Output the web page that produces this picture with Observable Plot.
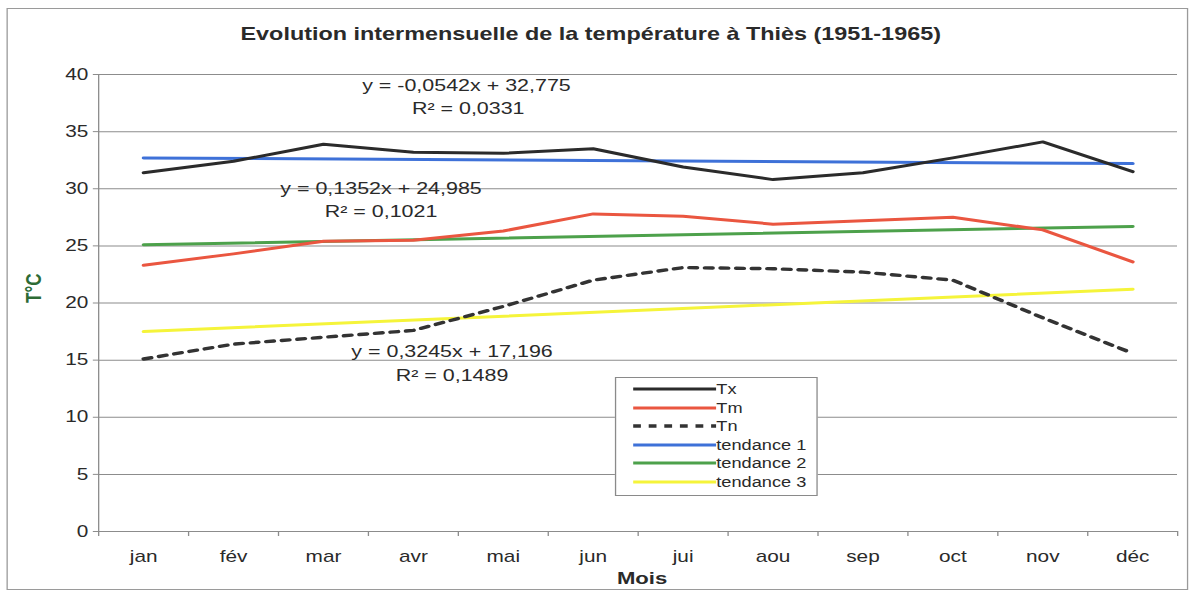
<!DOCTYPE html>
<html>
<head>
<meta charset="utf-8">
<script src="https://cdn.jsdelivr.net/npm/d3@7"></script>
<script src="https://cdn.jsdelivr.net/npm/@observablehq/plot@0.6"></script>
<style>
  body { margin: 0; background: #fff; }
  #wrap { position: relative; width: 920px; height: 597px; transform: scaleX(1.3); transform-origin: 0 0;
          font-family: "Liberation Sans", Arial, sans-serif; overflow: visible; }
  #frame { position: absolute; left: 5px; top: 8px; width: 909px; height: 582px; border: 1px solid #9a9a9a; box-sizing: border-box; }
  #chart { position: absolute; left: 0; top: 0; }
  #legend { position: absolute; left: 473px; top: 377px; width: 156px; height: 119px; border: 1px solid #8a8a8a;
            background: #fff; box-sizing: border-box; }
  .row { position: absolute; left: 0; height: 18px; width: 156px; }
  .row svg { position: absolute; left: 13px; top: 0; }
  .row span { position: absolute; left: 77px; top: 0; line-height: 18px; font-size: 14px; color: #2a2a2a; white-space: nowrap; }
</style>
</head>
<body>
<div id="wrap">
  <div id="frame"></div>
  <div id="chart"></div>
  <div id="legend"></div>
</div>
<script>
// ---- data ----
const months = ["jan", "fév", "mar", "avr", "mai", "jun", "jui", "aou", "sep", "oct", "nov", "déc"];
const tx = [31.4, 32.4, 33.9, 33.2, 33.1, 33.5, 31.9, 30.8, 31.4, 32.7, 34.1, 31.5];
const tm = [23.3, 24.3, 25.4, 25.5, 26.3, 27.8, 27.6, 26.9, 27.2, 27.5, 26.4, 23.6];
const tn = [15.1, 16.4, 17.0, 17.6, 19.7, 22.0, 23.1, 23.0, 22.7, 22.0, 18.7, 15.6];
// trend lines: values read at jan and déc
const trendMonths = [1, 12];
const tendance1 = [32.7, 32.2];
const tendance2 = [25.1, 26.7];
const tendance3 = [17.5, 21.2];
const yTicks = [0, 5, 10, 15, 20, 25, 30, 35, 40];
const annotations = [
  {x: 4.59, y: 39.0, text: "y = -0,0542x + 32,775"},
  {x: 4.61, y: 37.0, text: "R² = 0,0331"},
  {x: 3.64, y: 30.0, text: "y = 0,1352x + 24,985"},
  {x: 3.64, y: 28.0, text: "R² = 0,1021"},
  {x: 4.43, y: 15.7, text: "y = 0,3245x + 17,196"},
  {x: 4.43, y: 13.6, text: "R² = 0,1489"}
];
const series = [
  {name: "Tx", color: "#2b2b2b", dash: null},
  {name: "Tm", color: "#ea5640", dash: null},
  {name: "Tn", color: "#333333", dash: "6,6"},
  {name: "tendance 1", color: "#3e71d8", dash: null},
  {name: "tendance 2", color: "#4da14b", dash: null},
  {name: "tendance 3", color: "#f5f43a", dash: null}
];
const title = "Evolution intermensuelle de la température à Thiès (1951-1965)";

// ---- build tables ----
const rows = months.map((m, i) => ({k: i + 1, tx: tx[i], tm: tm[i], tn: tn[i]}));
const trend = arr => trendMonths.map((k, j) => ({k, v: arr[j]}));
const boundaries = d3.range(0, 13).map(i => i + 0.5);
const centers = d3.range(1, 13);
const grid = "#8c8c8c";
const lw = 3;

const plot = Plot.plot({
  width: 920,
  height: 597,
  marginLeft: 75.4,
  marginRight: 14.6,
  marginTop: 74,
  marginBottom: 66,
  x: {type: "linear", domain: [0.5, 12.5]},
  y: {domain: [0, 40]},
  style: {fontFamily: "'Liberation Sans', Arial, sans-serif", fontSize: "16px", color: "#2a2a2a", background: "transparent", overflow: "visible"},
  marks: [
    Plot.gridY(yTicks, {stroke: grid, strokeOpacity: 1, strokeWidth: 1}),
    Plot.ruleX([0.5], {stroke: grid}),
    Plot.ruleY([0], {stroke: grid}),
    Plot.axisY(yTicks, {tickSize: 4, tickPadding: 4, stroke: grid, fill: "#2a2a2a", label: null, fontSize: 16}),
    Plot.axisX(boundaries, {tickSize: 5, stroke: grid, tickFormat: () => "", label: null}),
    Plot.axisX(centers, {tickSize: 0, tickPadding: 19, tickFormat: k => months[k - 1], fill: "#2a2a2a", label: null, fontSize: 16}),
    Plot.line(trend(tendance1), {x: "k", y: "v", stroke: series[3].color, strokeWidth: lw}),
    Plot.line(trend(tendance2), {x: "k", y: "v", stroke: series[4].color, strokeWidth: lw}),
    Plot.line(trend(tendance3), {x: "k", y: "v", stroke: series[5].color, strokeWidth: lw}),
    Plot.line(rows, {x: "k", y: "tx", stroke: series[0].color, strokeWidth: lw}),
    Plot.line(rows, {x: "k", y: "tm", stroke: series[1].color, strokeWidth: lw}),
    Plot.line(rows, {x: "k", y: "tn", stroke: series[2].color, strokeWidth: 3.4, strokeDasharray: series[2].dash}),
    Plot.text(annotations, {x: "x", y: "y", text: "text", fontSize: 16.5, fill: "#2a2a2a"}),
    Plot.text([title], {frameAnchor: "top", dx: -36.5, dy: -47, fontSize: 18, fontWeight: "bold", fill: "#2a2a2a"}),
    Plot.text(["Mois"], {frameAnchor: "bottom", dx: 3, dy: 52, fontSize: 17, fontWeight: "bold", fill: "#2a2a2a"}),
    Plot.text(["T°C"], {frameAnchor: "left", dx: -49.5, rotate: -90, fontSize: 17, fontWeight: "bold", fill: "#2d6b35"})
  ]
});
document.getElementById("chart").appendChild(plot);

// ---- legend ----
const legend = document.getElementById("legend");
const rowTops = [2, 20.5, 39, 57.5, 76, 94.5];
series.forEach((s, i) => {
  const r = document.createElement("div");
  r.className = "row";
  r.style.top = rowTops[i] + "px";
  r.innerHTML = `<svg width="64" height="18"><line x1="0" y1="9" x2="64" y2="9" stroke="${s.color}" stroke-width="${s.dash ? 3.4 : 3}" ${s.dash ? `stroke-dasharray="${s.dash}"` : ""}/></svg><span>${s.name}</span>`;
  legend.appendChild(r);
});
</script>
</body>
</html>
